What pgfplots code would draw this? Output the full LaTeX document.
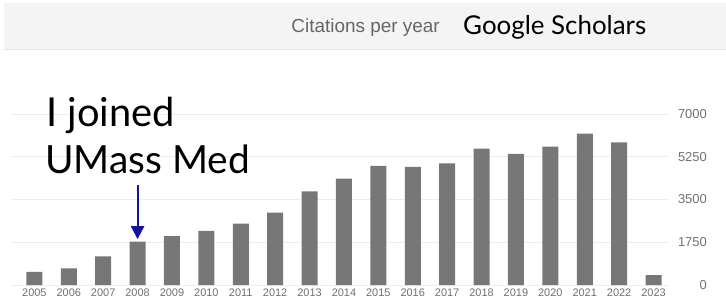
\documentclass[border=0pt]{standalone}
\usepackage{fontspec}
\setmainfont{Liberation Sans}
\newfontfamily\lato{Lato}
\usepackage{pgfplots}
\pgfplotsset{compat=1.18}
\usetikzlibrary{arrows.meta}
\definecolor{barc}{HTML}{777777}
\definecolor{gridc}{HTML}{EDEDED}
\definecolor{tickc}{HTML}{707070}
\definecolor{headtxt}{HTML}{666666}
\definecolor{headbg}{HTML}{F4F4F4}
\definecolor{headline}{HTML}{E2E2E2}
\definecolor{arrowc}{HTML}{13139E}
\begin{document}
\begin{tikzpicture}[x=1bp,y=1bp]
\path[use as bounding box] (0,0) rectangle (726,303);
\fill[headbg] (4,254) rectangle (726,300);
\draw[headline, line width=1.2bp] (4,253.5) -- (726,253.5);
\node[anchor=base east, inner sep=0, text=headtxt, font=\fontsize{19}{21}\selectfont] at (440,270) {Citations per year};
\node[anchor=base west, inner sep=0, font=\lato\fontsize{26}{30}\selectfont] at (463,268) {Google Scholars};
\begin{axis}[
  at={(11bp,18bp)}, anchor=south west,
  scale only axis, width=657bp, height=171bp,
  xmin=2004.32, xmax=2023.42, ymin=0, ymax=7000,
  axis line style={draw=none},
  major tick length=0,
  ytick={0,1750,3500,5250,7000},
  ymajorgrids, grid style={gridc, line width=1bp},
  yticklabel pos=right,
  /pgf/number format/.cd, 1000 sep={}, assume math mode=true, /pgfplots/.cd,
  yticklabel style={anchor=east, inner sep=0, xshift=39bp, text=tickc, font=\fontsize{13}{15}\selectfont},
  xtick={2005,...,2023},
  xticklabel style={anchor=center, inner sep=0, yshift=-8bp, text=tickc, font=\fontsize{11}{13}\selectfont},
  clip=false,
]
\addplot[ybar, bar width=16bp, fill=barc, draw=none] coordinates {
(2005,542) (2006,680) (2007,1170) (2008,1780) (2009,2000) (2010,2215)
(2011,2515) (2012,2963) (2013,3832) (2014,4350) (2015,4880) (2016,4840)
(2017,4974) (2018,5585) (2019,5369) (2020,5667) (2021,6197) (2022,5842)
(2023,408)};
\draw[arrowc, line width=2bp, -{Triangle[width=13bp,length=13bp]}] (axis cs:2008,4077) -- (axis cs:2008,1875);
\end{axis}
\node[anchor=base west, inner sep=0, font=\lato\fontsize{40}{46}\selectfont] at (46,176.3) {I joined};
\node[anchor=base west, inner sep=0, font=\lato\fontsize{39}{46}\selectfont] at (45,129.7) {UMass Med};
\end{tikzpicture}
\end{document}
